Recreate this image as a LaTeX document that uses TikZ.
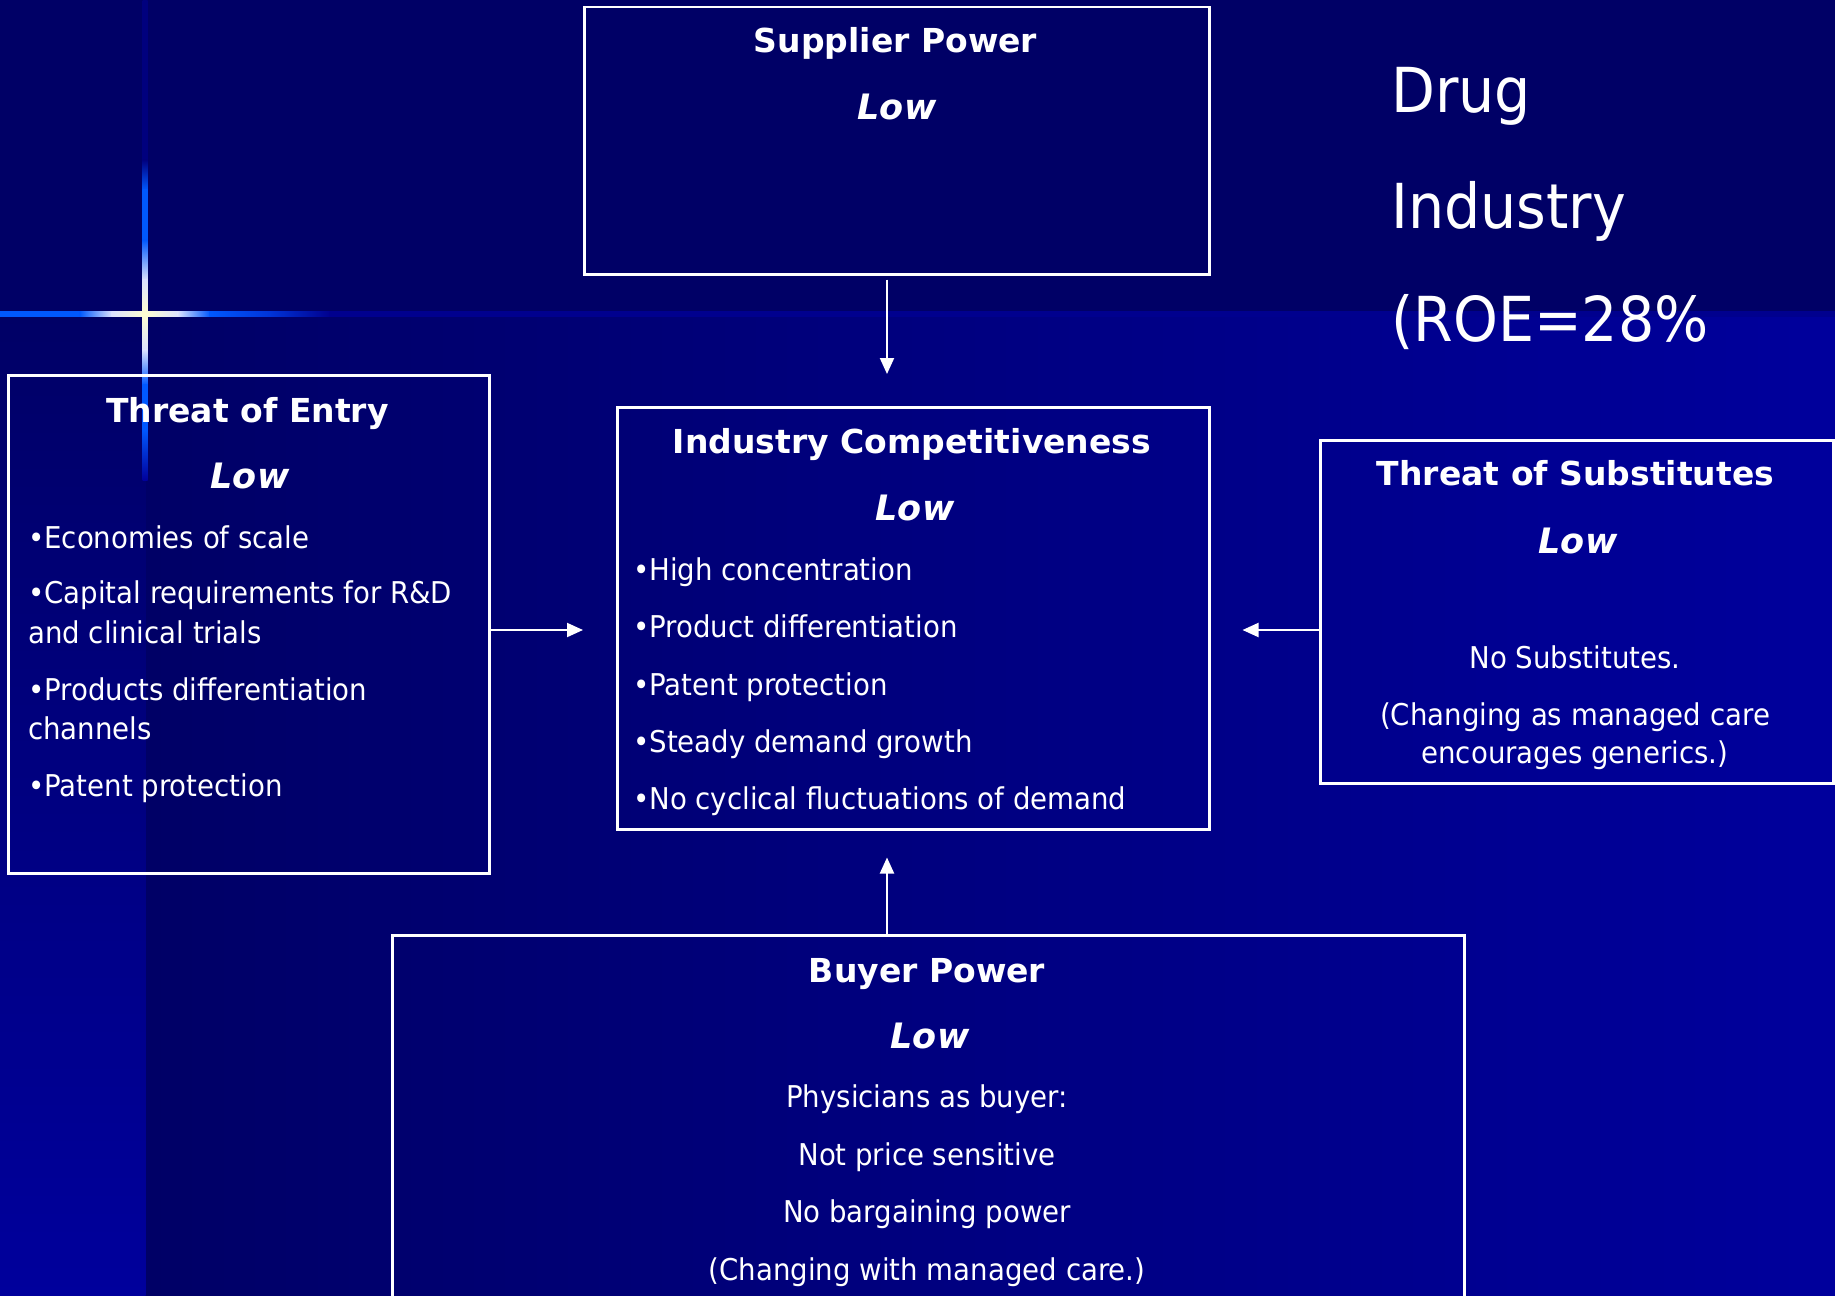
\documentclass[tikz,border=0pt]{standalone}
\usepackage{fontspec}
\setmainfont{DejaVu Sans}
\newfontfamily\bodyfont[FakeStretch=0.92]{DejaVu Sans}
\newfontfamily\headfont{DejaVu Sans}
\usetikzlibrary{arrows.meta}

% slide background
\definecolor{navy}{HTML}{000066}
\definecolor{deepblue}{HTML}{00009C}
% light streaks crossing at the upper left
\definecolor{flblue}{HTML}{0058FF}
\definecolor{flbluedim}{HTML}{0034D8}
\definecolor{flwhite}{HTML}{DCE2FF}
\definecolor{flcream}{HTML}{FFFFD2}
\definecolor{flline}{HTML}{00008E}
\definecolor{flfaint}{HTML}{00007E}
\definecolor{flfade}{HTML}{00009A}

\tikzset{
  box/.style={draw=white, line width=2.5pt, rectangle, inner sep=0pt, anchor=north west},
  ttl/.style={font=\headfont\bfseries\fontsize{33}{40}\selectfont, text=white, anchor=base, inner sep=0pt},
  lvl/.style={font=\headfont\bfseries\itshape\fontsize{35}{42}\selectfont, text=white, anchor=base, inner sep=0pt},
  item/.style={font=\bodyfont\fontsize{30}{36}\selectfont, text=white, anchor=base west, inner sep=0pt},
  ctext/.style={font=\bodyfont\fontsize{30}{36}\selectfont, text=white, anchor=base, inner sep=0pt},
  big/.style={font=\bodyfont\fontsize{62}{70}\selectfont, text=white, anchor=base west, inner sep=0pt},
  arr/.style={draw=white, line width=2pt, -{Triangle[length=16pt,width=14pt]}}
}

\begin{document}
\begin{tikzpicture}[x=1pt,y=-1pt]
\useasboundingbox (0,0) rectangle (1835,1295);
\clip (0,0) rectangle (1835,1295);

% background panels
\fill[navy] (0,0) rectangle (1835,314);
\shade[left color=navy, right color=deepblue] (145,314) rectangle (1835,1295);
\shade[top color=navy, bottom color=deepblue] (0,314) rectangle (145.5,1295);

% horizontal streak
\foreach \a/\b/\ca/\cb in {0/80/flblue/flblue, 80/112/flblue/flwhite,
    112/145/flwhite/flcream, 145/178/flcream/flwhite, 178/210/flwhite/flblue,
    210/270/flblue/flbluedim, 270/330/flbluedim/flline, 330/1835/flline/flline}
  \shade[left color=\ca, right color=\cb] (\a-0.3,311.5) rectangle (\b+0.3,316.5);

% vertical streak
\foreach \a/\b/\ca/\cb in {0/160/flfaint/flfaint, 160/190/flfaint/flblue,
    190/240/flblue/flblue, 240/280/flblue/flwhite, 280/314/flwhite/flcream,
    314/350/flcream/flwhite, 350/385/flwhite/flblue, 385/430/flblue/flblue,
    430/480/flblue/flfade}
  \shade[top color=\ca, bottom color=\cb] (142.5,\a-0.3) rectangle (147.5,\b+0.3);

% title at the upper right
\node[big] (drug) at (1391,113) {Drug};
\node[big] (drugind) at (1391,228) {Industry};
\node[big] (roe) at (1391,341) {(ROE=28\%};

% the five forces
\node[box, minimum width=625pt, minimum height=267pt] (sup) at (583,6) {};
\node[box, minimum width=481pt, minimum height=498pt] (entry) at (7,374) {};
\node[box, minimum width=592pt, minimum height=422pt] (ind) at (616,406) {};
\node[box, minimum width=513pt, minimum height=343pt] (subs) at (1319,439) {};
\node[box, minimum width=1072pt, minimum height=390pt] (buy) at (391,934) {};

% supplier power
\node[ttl] (sup-t) at (895.5,53) {Supplier Power};
\node[lvl] (sup-l) at (897,120) {Low};

% threat of entry
\node[ttl] (ent-t) at (247.5,422) {Threat of Entry};
\node[lvl] (ent-l) at (250,488) {Low};
\node[item] (ent-1) at (28,548) {•Economies of scale};
\node[item] (ent-2) at (28,603) {•Capital requirements for R\&D};
\node[item] (ent-2b) at (28,643) {and clinical trials};
\node[item] (ent-3) at (28,700) {•Products differentiation};
\node[item] (ent-3b) at (28,739) {channels};
\node[item] (ent-4) at (28,796) {•Patent protection};

% industry competitiveness
\node[ttl] (ind-t) at (912,453) {Industry Competitiveness};
\node[lvl] (ind-l) at (915,520) {Low};
\node[item] (ind-1) at (633,580) {•High concentration};
\node[item] (ind-2) at (633,637) {•Product differentiation};
\node[item] (ind-3) at (633,695) {•Patent protection};
\node[item] (ind-4) at (633,752) {•Steady demand growth};
\node[item] (ind-5) at (633,809) {•No cyclical fluctuations of demand};

% threat of substitutes
\node[ttl] (sub-t) at (1575.5,485) {Threat of Substitutes};
\node[lvl] (sub-l) at (1578,553) {Low};
\node[ctext] (sub-1) at (1575,668) {No Substitutes.};
\node[ctext] (sub-2) at (1575,725) {(Changing as managed care};
\node[ctext] (sub-2b) at (1575,763) {encourages generics.)};

% buyer power
\node[ttl] (buy-t) at (927,982) {Buyer Power};
\node[lvl] (buy-l) at (930,1048) {Low};
\node[ctext] (buy-1) at (927,1107) {Physicians as buyer:};
\node[ctext] (buy-2) at (927,1165) {Not price sensitive};
\node[ctext] (buy-3) at (927,1222) {No bargaining power};
\node[ctext] (buy-4) at (927,1280) {(Changing with managed care.)};

% connectors into the central box
\coordinate (ax) at (887,0);
\coordinate (ay) at (0,630);
\draw[arr, shorten <=4pt, shorten >=32pt] (sup.south -| ax) -- (ind.north -| ax);
\draw[arr, shorten >=27pt] (buy.north -| ax) -- (ind.south -| ax);
\draw[arr, shorten >=33pt] (entry.east |- ay) -- (ind.west |- ay);
\draw[arr, shorten >=32pt] (subs.west |- ay) -- (ind.east |- ay);
\end{tikzpicture}
\end{document}
